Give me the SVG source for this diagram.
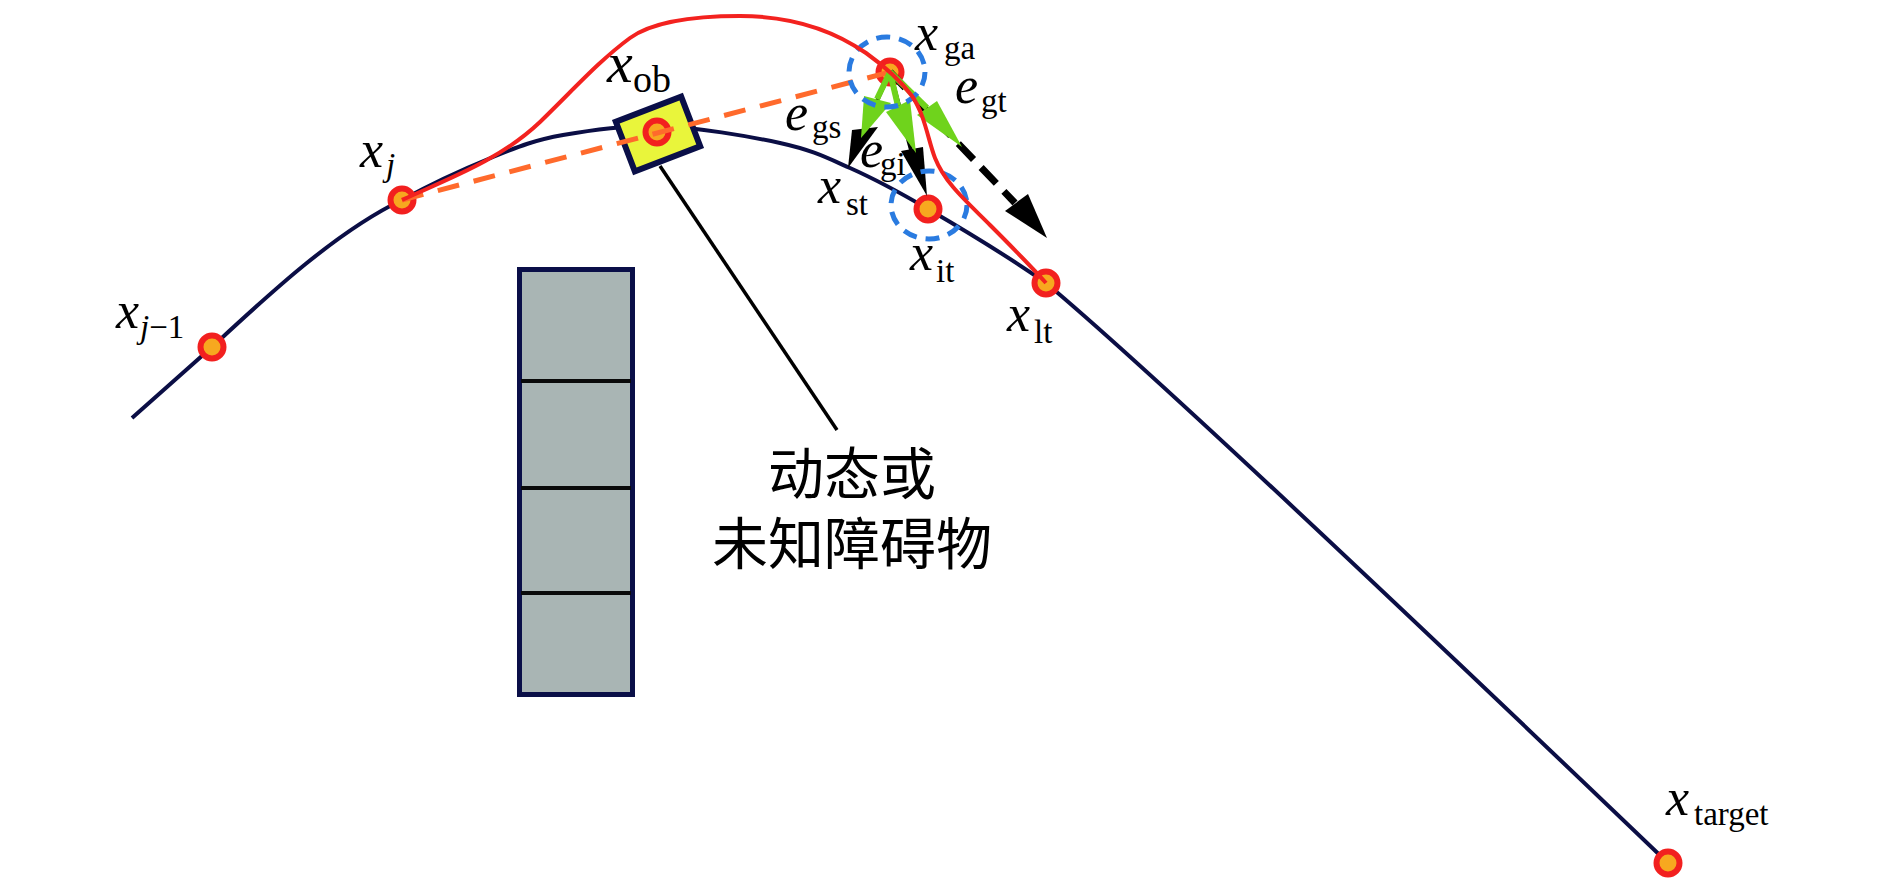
<svg xmlns="http://www.w3.org/2000/svg" width="1890" height="879" viewBox="0 0 1890 879">
<style>
.m{font-family:"Liberation Serif","Times New Roman",serif;font-style:italic;font-size:52px;fill:#000}
.s{font-family:"Liberation Serif","Times New Roman",serif;font-style:normal;font-size:33px;fill:#000}
.si{font-style:italic}
.cn{font-family:"Noto Sans CJK SC","Noto Sans CJK JP",sans-serif;font-size:56px;fill:#000;text-anchor:middle}
.pt{fill:#f7a81f;stroke:#f2201f;stroke-width:6}
.navy{fill:none;stroke:#0b0e45;stroke-width:4}
.red{fill:none;stroke:#f3221f;stroke-width:4}
.od{fill:none;stroke:#ff6a2c;stroke-width:5;stroke-dasharray:22 15}
.bc{fill:none;stroke:#2a7be0;stroke-width:5;stroke-dasharray:14 9}
.gs{stroke:#6fd31c;stroke-width:6}
.gh{fill:#6fd31c}
.bh{fill:#000}
</style>

<g id="trajectory">
<path class="navy" d="M132,418 C158,395 185,371 212,347 C265,298 335,232 402,200 C432.5,183 466,168 493,157 C519.8,146 535,140 563,135 C590.8,130 624,125 660,126 C696,127.3 748,136 780,143 C811.7,150 825.3,157 850,168 C874.7,179 895.3,189.8 928,209 C960.7,228 1013,260 1046,283 C1150,370 1430,635 1668,863"/>
</g>

<g id="obstacle-static">
<rect x="519.5" y="269.5" width="113" height="425" fill="#a9b5b4" stroke="#0a0f48" stroke-width="5"/>
<line x1="521" y1="381" x2="631" y2="381" stroke="#0a0a0a" stroke-width="4"/>
<line x1="521" y1="488" x2="631" y2="488" stroke="#0a0a0a" stroke-width="4"/>
<line x1="521" y1="593" x2="631" y2="593" stroke="#0a0a0a" stroke-width="4"/>
</g>

<g id="obstacle-dynamic">
<rect x="623" y="107.5" width="70" height="53" fill="#e9f53b" stroke="#0a0f48" stroke-width="6" transform="rotate(-21 658 134)"/>
</g>

<g id="caption">
<text class="cn" x="852" y="494">动态或</text>
<text class="cn" x="852" y="564">未知障碍物</text>
</g>

<g id="node-xj1"><circle class="pt" cx="212" cy="347" r="11.5"/>
<text class="m" x="116" y="328">x</text><text class="s" x="140" y="338"><tspan class="si">j</tspan>−1</text></g>
<g id="node-xj"><circle class="pt" cx="402" cy="200" r="11.5"/>
<text class="m" x="360" y="167">x</text><text class="s" x="386" y="176"><tspan class="si">j</tspan></text></g>
<g id="node-xob"><circle class="pt" cx="657" cy="132" r="11.5"/>
<text class="m" x="607" y="82" style="font-size:58px">x</text><text class="s" x="633" y="92" style="font-size:38px">ob</text></g>
<g id="node-xga"><circle class="pt" cx="890" cy="72" r="11.5"/>
<text class="m" x="915" y="50">x</text><text class="s" x="944" y="59">ga</text></g>
<g id="node-xst">
<text class="m" x="818" y="203">x</text><text class="s" x="846" y="215">st</text></g>
<g id="node-xit"><circle class="pt" cx="928" cy="209" r="11.5"/>
<text class="m" x="910" y="270">x</text><text class="s" x="936" y="282">it</text></g>
<g id="node-xlt"><circle class="pt" cx="1046" cy="283" r="11.5"/>
<text class="m" x="1007" y="331">x</text><text class="s" x="1034" y="343">lt</text></g>
<g id="node-xtarget"><circle class="pt" cx="1668" cy="863" r="11.5"/>
<text class="m" x="1666" y="815">x</text><text class="s" x="1694" y="825">target</text></g>

<g id="connectors">
<line x1="660" y1="166" x2="837" y2="430" stroke="#000" stroke-width="3.5"/>
<line class="od" x1="402" y1="200" x2="890" y2="72"/>
<line x1="890" y1="72" x2="1015" y2="203" stroke="#000" stroke-width="7" stroke-dasharray="22 11"/>
<polygon class="bh" points="1005,211 1028,194 1047,238"/>
<line x1="890" y1="72" x2="864" y2="130" stroke="#000" stroke-width="4"/>
<polygon class="bh" points="852,130 878,127 848,168"/>
<line x1="890" y1="72" x2="911" y2="150" stroke="#000" stroke-width="4"/>
<polygon class="bh" points="901,151 923,147 927,196"/>
<line class="gs" x1="890" y1="72" x2="877" y2="99"/>
<polygon class="gh" points="864,96 891,103 861,138"/>
<line class="gs" x1="890" y1="72" x2="898" y2="106"/>
<polygon class="gh" points="886,112 910,100 916,153"/>
<line class="gs" x1="890" y1="72" x2="927" y2="108"/>
<polygon class="gh" points="917,115 937,101 962,147"/>
<ellipse class="bc" cx="887" cy="72" rx="38" ry="35"/>
<ellipse class="bc" cx="929" cy="205" rx="38" ry="34"/>
<path class="red" d="M402,200 C450,178 500,160 540,122 C575,88 600,60 630,38 C655,20 700,16 740,16 C790,16 830,28 866,53 C880,63 900,80 912,96 C925,115 928,140 935,158 C945,183 965,200 990,225 C1010,245 1030,265 1046,283"/>
</g>

<g id="edge-labels">
<text class="m" x="785" y="130">e</text><text class="s" x="812" y="138">gs</text>
<text class="m" x="860" y="167">e</text><text class="s" x="880" y="175">gi</text>
<text class="m" x="955" y="103">e</text><text class="s" x="981" y="112">gt</text>
</g>
</svg>
